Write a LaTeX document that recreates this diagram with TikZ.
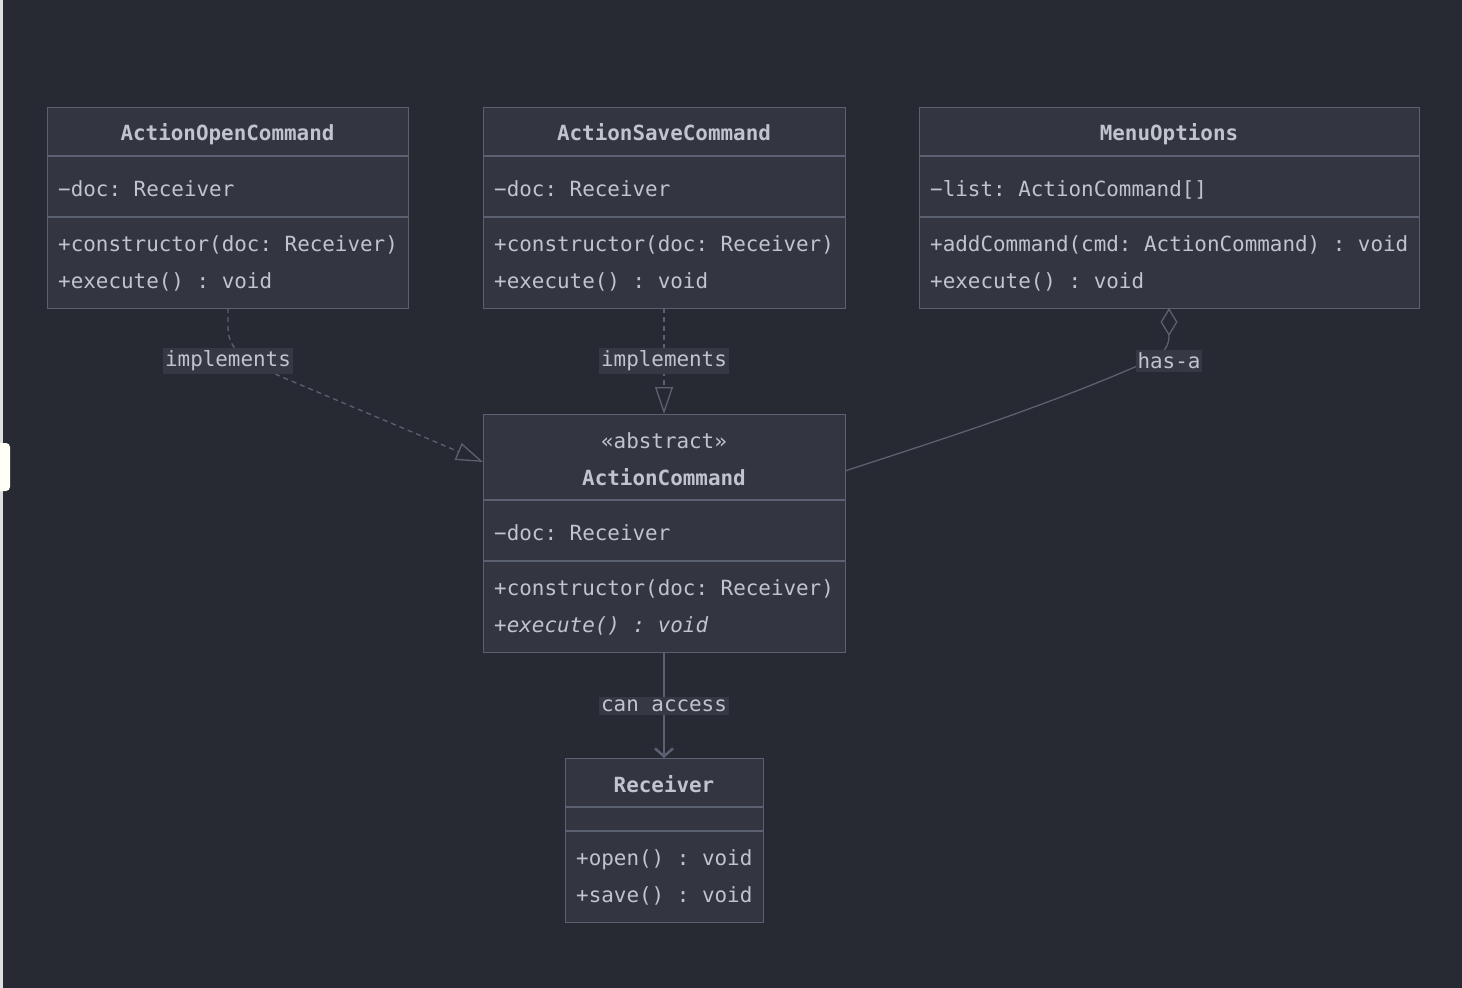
\documentclass[tikz,border=0pt]{standalone}
\usepackage{fontspec}
\setmainfont{DejaVu Sans Mono}
\usetikzlibrary{arrows.meta}
\definecolor{bgc}{HTML}{282A33}
\definecolor{boxc}{HTML}{333640}
\definecolor{linec}{HTML}{5B6170}
\definecolor{txtc}{HTML}{C0C4CC}
\definecolor{lblc}{HTML}{363944}
\frenchspacing
\tikzset{
  cls/.style={draw=linec, fill=boxc, line width=1.3pt, inner sep=0pt, anchor=north west},
  mem/.style={anchor=base west, text=txtc, inner sep=0pt, font=\fontsize{20.9}{24}\selectfont},
  ttl/.style={anchor=base, text=txtc, inner sep=0pt, font=\fontsize{20.9}{24}\selectfont\bfseries},
  ster/.style={anchor=base, text=txtc, inner sep=0pt, font=\fontsize{20.9}{24}\selectfont},
  divl/.style={draw=linec, line width=1.3pt},
  conn/.style={draw=linec, line width=1.3pt},
  lbl/.style={fill=lblc, text=txtc, inner xsep=2pt, inner ysep=3pt, font=\fontsize{20.9}{24}\selectfont},
}
\begin{document}
\begin{tikzpicture}[x=1pt,y=-1pt]
\fill[bgc] (0,0) rectangle (1462,988);
\useasboundingbox (0,0) rectangle (1462,988);
\fill[gray!25] (0,0) rectangle (2.5,988);
\fill[white!97!yellow, rounded corners=4pt] (-5,443) rectangle (10,491);

% ActionOpenCommand
\node[cls, minimum width=361pt, minimum height=201pt] (aoc) at (47,107) {};
\draw[divl] (47,156) -- (408,156);
\draw[divl] (47,217) -- (408,217);
\node[ttl] (aoct) at (227.5,140) {ActionOpenCommand};
\node[mem] (aoca) at (58,196) {−doc: Receiver};
\node[mem] (aocm1) at (58,251) {+constructor(doc: Receiver)};
\node[mem] (aocm2) at (58,288) {+execute() : void};

% ActionSaveCommand
\node[cls, minimum width=362pt, minimum height=201pt] (asc) at (483,107) {};
\draw[divl] (483,156) -- (845,156);
\draw[divl] (483,217) -- (845,217);
\node[ttl] (asct) at (664,140) {ActionSaveCommand};
\node[mem] (asca) at (494,196) {−doc: Receiver};
\node[mem] (ascm1) at (494,251) {+constructor(doc: Receiver)};
\node[mem] (ascm2) at (494,288) {+execute() : void};

% MenuOptions
\node[cls, minimum width=500pt, minimum height=201pt] (mo) at (919,107) {};
\draw[divl] (919,156) -- (1419,156);
\draw[divl] (919,217) -- (1419,217);
\node[ttl] (mot) at (1169,140) {MenuOptions};
\node[mem] (moa) at (930,196) {−list: ActionCommand[]};
\node[mem] (mom1) at (930,251) {+addCommand(cmd: ActionCommand) : void};
\node[mem] (mom2) at (930,288) {+execute() : void};

% ActionCommand
\node[cls, minimum width=362pt, minimum height=238pt] (ac) at (483,414) {};
\draw[divl] (483,500) -- (845,500);
\draw[divl] (483,561) -- (845,561);
\node[ster] (acs) at (664,448) {«abstract»};
\node[ttl] (act) at (664,485) {ActionCommand};
\node[mem] (aca) at (494,540) {−doc: Receiver};
\node[mem] (acm1) at (494,595) {+constructor(doc: Receiver)};
\node[mem] (acm2) at (494,632) {\itshape +execute() : void};

% Receiver
\node[cls, minimum width=198pt, minimum height=164pt] (rc) at (565,758) {};
\draw[divl] (565,807) -- (763,807);
\draw[divl] (565,831) -- (763,831);
\node[ttl] (rct) at (664,792) {Receiver};
\node[mem] (rcm1) at (576,865) {+open() : void};
\node[mem] (rcm2) at (576,902) {+save() : void};

% connectors
\coordinate (aocb) at (228,308);
\coordinate (acl) at (483,462);
\draw[conn, dash pattern=on 5pt off 4pt, -{Triangle[open, length=27pt, width=18pt]}]
  (aocb) -- (228,328) .. controls (228,352) and (250,363) .. (282,377) -- (acl);
\node[lbl] (l1) at (228,361) {implements};

\coordinate (ascb) at (664,308);
\coordinate (act2) at (664,414);
\draw[conn, dash pattern=on 5pt off 4pt, -{Triangle[open, length=27pt, width=18pt]}]
  (ascb) -- (act2);
\node[lbl] (l2) at (664,361) {implements};

\coordinate (mob) at (1169,308);
\coordinate (acr) at (845,471);
\draw[conn, {Diamond[open, length=28pt, width=17pt]}-]
  (mob) -- (1169,336) .. controls (1169,350) and (1160,357) .. (1135,367) .. controls (1030,412) and (930,443) .. (acr);
\node[lbl] (l3) at (1169,361) {has-a};

\coordinate (acb) at (664,652);
\coordinate (rct2) at (664,758);
\draw[conn, -{Straight Barb[length=8pt, width=18pt, line width=2.5pt]}] (acb) -- (rct2);
\node[lbl] (l4) at (664,706) {can access};
\end{tikzpicture}
\end{document}
